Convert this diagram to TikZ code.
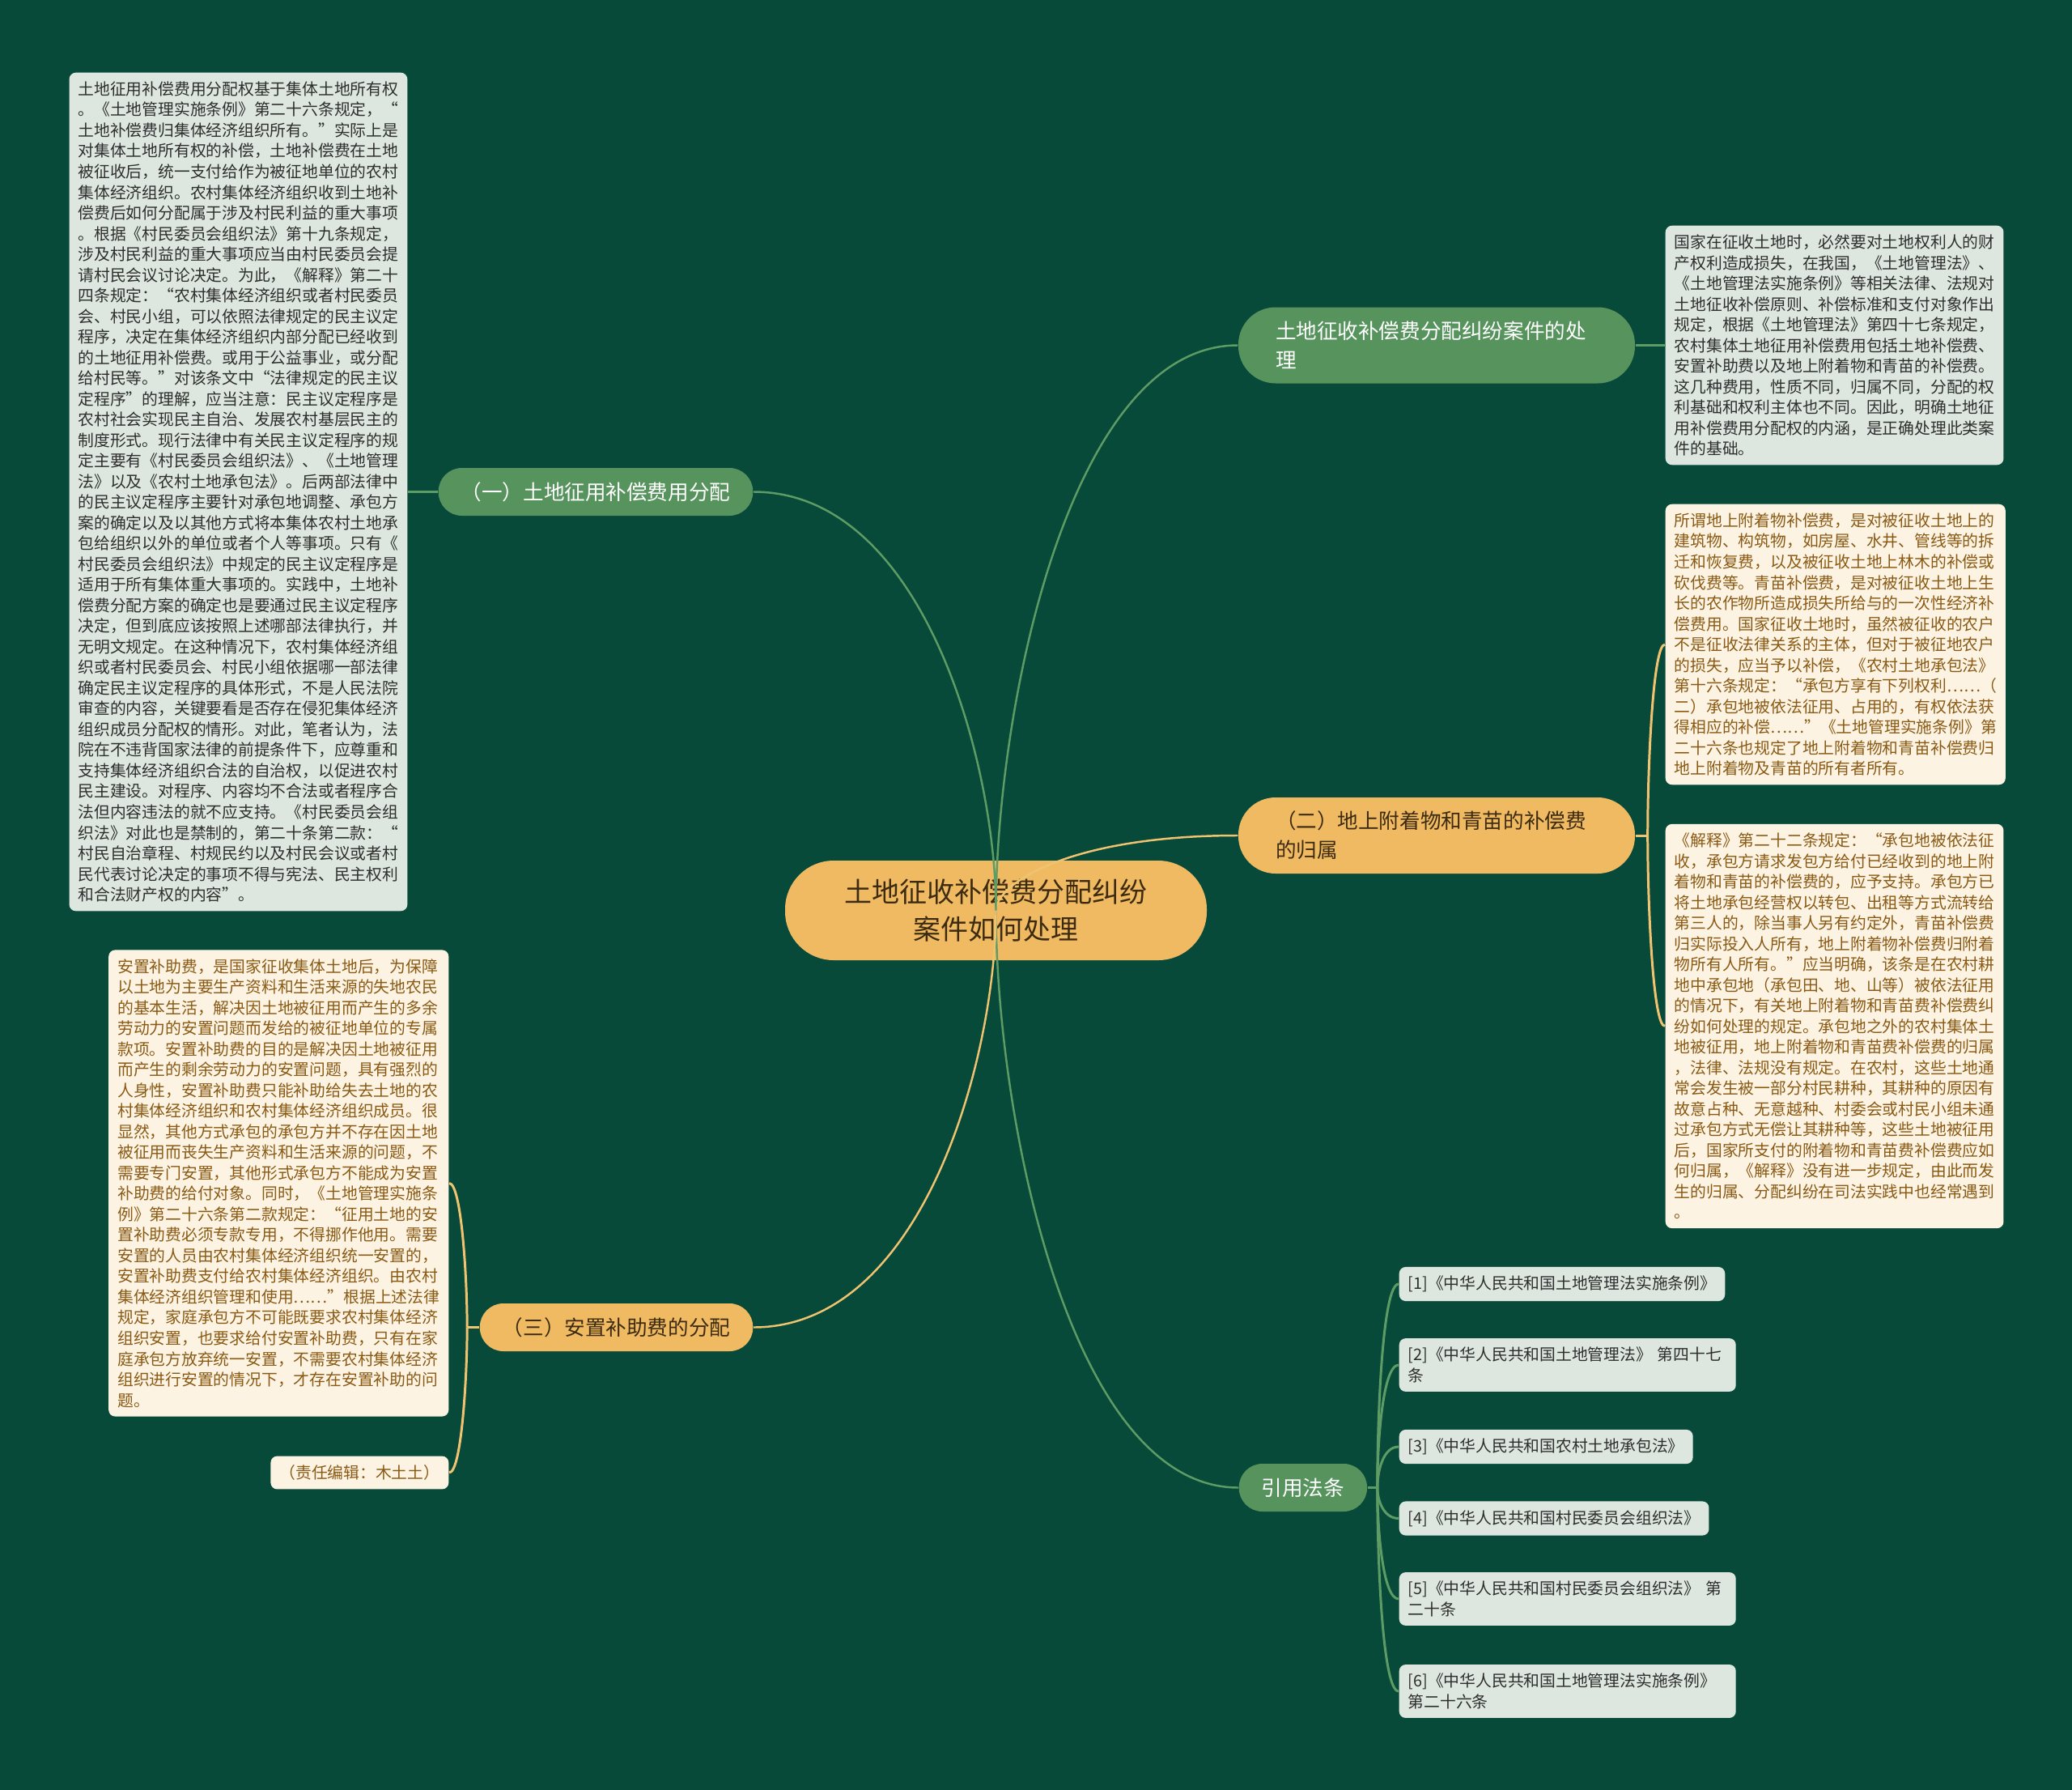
\documentclass[tikz,border=0pt]{standalone}
\usepackage{fontspec}
\setmainfont{Noto Sans CJK SC}
\usepackage{xcolor}
\usepackage{tikz}
\usetikzlibrary{positioning}
\definecolor{bg}{HTML}{084A3A}
\definecolor{gbranch}{HTML}{56935D}
\definecolor{obranch}{HTML}{F0BA62}
\definecolor{gleaf}{HTML}{DDE7DF}
\definecolor{oleaf}{HTML}{FCF3E3}
\definecolor{gline}{HTML}{5E9C65}
\definecolor{oline}{HTML}{EFC36F}
\definecolor{brownink}{HTML}{8A5A14}
\definecolor{ink}{HTML}{2E2E2E}
\definecolor{darkink}{HTML}{3C2B10}

\begin{document}
\begin{tikzpicture}[
root/.style={fill=obranch,rounded corners=6mm,minimum width=52.1mm,minimum height=12.3mm,align=center,text=darkink,font=\fontsize{9.67}{13}\selectfont},
gtopic/.style={fill=gbranch,rounded corners=4.6mm,text=white,font=\fontsize{7.28}{10.2}\selectfont},
otopic/.style={fill=obranch,rounded corners=4.6mm,text=darkink,font=\fontsize{7.28}{10.2}\selectfont},
twoline/.style={text width=39.8mm,inner xsep=4.6mm,minimum height=9.4mm,align=left},
oneline/.style={inner xsep=2.8mm,minimum height=5.9mm,rounded corners=2.9mm},
gnote/.style={fill=gleaf,rounded corners=0.8mm,text=ink,inner sep=1.1mm,align=left,font=\fontsize{5.63}{7.26}\selectfont},
onote/.style={fill=oleaf,rounded corners=0.8mm,text=brownink,inner sep=1.1mm,align=left,font=\fontsize{5.63}{7.26}\selectfont},
wrapped/.style={text width=39.4mm},
glink/.style={draw=gline,line width=0.7pt},
olink/.style={draw=oline,line width=0.7pt},
gbrace/.style={draw=gline,line width=0.85pt},
obrace/.style={draw=oline,line width=0.85pt}
]
\fill[bg] (0,0) rectangle (25.60,-22.11);
\useasboundingbox (0,0) rectangle (25.60,-22.11);

% centre and main topics
\node[root] (root) at (12.305,-11.245) {土地征收补偿费分配纠纷\\案件如何处理};
\node[gtopic,twoline] (b1) at (17.75,-4.265) {土地征收补偿费分配纠纷案件的处\\理};
\node[otopic,twoline] (b2) at (17.75,-10.32) {（二）地上附着物和青苗的补偿费\\的归属};
\node[gtopic,oneline,anchor=west] (b3) at (15.30,-18.375) {引用法条};
\node[gtopic,oneline,anchor=east] (b4) at (9.31,-6.075) {（一）土地征用补偿费用分配};
\node[otopic,oneline,anchor=east] (b5) at (9.31,-16.395) {（三）安置补助费的分配};

% right notes
\node[gnote,anchor=west] (r1) at (20.57,-4.265) {国家在征收土地时，必然要对土地权利人的财\\产权利造成损失，在我国，《土地管理法》、\\《土地管理法实施条例》等相关法律、法规对\\土地征收补偿原则、补偿标准和支付对象作出\\规定，根据《土地管理法》第四十七条规定，\\农村集体土地征用补偿费用包括土地补偿费、\\安置补助费以及地上附着物和青苗的补偿费。\\这几种费用，性质不同，归属不同，分配的权\\利基础和权利主体也不同。因此，明确土地征\\用补偿费用分配权的内涵，是正确处理此类案\\件的基础。};
\node[onote,anchor=west] (r2) at (20.57,-7.96) {所谓地上附着物补偿费，是对被征收土地上的\\建筑物、构筑物，如房屋、水井、管线等的拆\\迁和恢复费，以及被征收土地上林木的补偿或\\砍伐费等。青苗补偿费，是对被征收土地上生\\长的农作物所造成损失所给与的一次性经济补\\偿费用。国家征收土地时，虽然被征收的农户\\不是征收法律关系的主体，但对于被征地农户\\的损失，应当予以补偿，《农村土地承包法》\\第十六条规定：“承包方享有下列权利……（\\二）承包地被依法征用、占用的，有权依法获\\得相应的补偿……”《土地管理实施条例》第\\二十六条也规定了地上附着物和青苗补偿费归\\地上附着物及青苗的所有者所有。};
\node[onote,anchor=west] (r3) at (20.57,-12.675) {《解释》第二十二条规定：“承包地被依法征\\收，承包方请求发包方给付已经收到的地上附\\着物和青苗的补偿费的，应予支持。承包方已\\将土地承包经营权以转包、出租等方式流转给\\第三人的，除当事人另有约定外，青苗补偿费\\归实际投入人所有，地上附着物补偿费归附着\\物所有人所有。”应当明确，该条是在农村耕\\地中承包地（承包田、地、山等）被依法征用\\的情况下，有关地上附着物和青苗费补偿费纠\\纷如何处理的规定。承包地之外的农村集体土\\地被征用，地上附着物和青苗费补偿费的归属\\，法律、法规没有规定。在农村，这些土地通\\常会发生被一部分村民耕种，其耕种的原因有\\故意占种、无意越种、村委会或村民小组未通\\过承包方式无偿让其耕种等，这些土地被征用\\后，国家所支付的附着物和青苗费补偿费应如\\何归属，《解释》没有进一步规定，由此而发\\生的归属、分配纠纷在司法实践中也经常遇到\\。};

% left notes
\node[gnote,anchor=east] (l1) at (5.04,-6.075) {土地征用补偿费用分配权基于集体土地所有权\\。《土地管理实施条例》第二十六条规定，“\\土地补偿费归集体经济组织所有。”实际上是\\对集体土地所有权的补偿，土地补偿费在土地\\被征收后，统一支付给作为被征地单位的农村\\集体经济组织。农村集体经济组织收到土地补\\偿费后如何分配属于涉及村民利益的重大事项\\。根据《村民委员会组织法》第十九条规定，\\涉及村民利益的重大事项应当由村民委员会提\\请村民会议讨论决定。为此，《解释》第二十\\四条规定：“农村集体经济组织或者村民委员\\会、村民小组，可以依照法律规定的民主议定\\程序，决定在集体经济组织内部分配已经收到\\的土地征用补偿费。或用于公益事业，或分配\\给村民等。”对该条文中“法律规定的民主议\\定程序”的理解，应当注意：民主议定程序是\\农村社会实现民主自治、发展农村基层民主的\\制度形式。现行法律中有关民主议定程序的规\\定主要有《村民委员会组织法》、《土地管理\\法》以及《农村土地承包法》。后两部法律中\\的民主议定程序主要针对承包地调整、承包方\\案的确定以及以其他方式将本集体农村土地承\\包给组织以外的单位或者个人等事项。只有《\\村民委员会组织法》中规定的民主议定程序是\\适用于所有集体重大事项的。实践中，土地补\\偿费分配方案的确定也是要通过民主议定程序\\决定，但到底应该按照上述哪部法律执行，并\\无明文规定。在这种情况下，农村集体经济组\\织或者村民委员会、村民小组依据哪一部法律\\确定民主议定程序的具体形式，不是人民法院\\审查的内容，关键要看是否存在侵犯集体经济\\组织成员分配权的情形。对此，笔者认为，法\\院在不违背国家法律的前提条件下，应尊重和\\支持集体经济组织合法的自治权，以促进农村\\民主建设。对程序、内容均不合法或者程序合\\法但内容违法的就不应支持。《村民委员会组\\织法》对此也是禁制的，第二十条第二款：“\\村民自治章程、村规民约以及村民会议或者村\\民代表讨论决定的事项不得与宪法、民主权利\\和合法财产权的内容”。};
\node[onote,anchor=east] (l2) at (5.55,-14.615) {安置补助费，是国家征收集体土地后，为保障\\以土地为主要生产资料和生活来源的失地农民\\的基本生活，解决因土地被征用而产生的多余\\劳动力的安置问题而发给的被征地单位的专属\\款项。安置补助费的目的是解决因土地被征用\\而产生的剩余劳动力的安置问题，具有强烈的\\人身性，安置补助费只能补助给失去土地的农\\村集体经济组织和农村集体经济组织成员。很\\显然，其他方式承包的承包方并不存在因土地\\被征用而丧失生产资料和生活来源的问题，不\\需要专门安置，其他形式承包方不能成为安置\\补助费的给付对象。同时，《土地管理实施条\\例》第二十六条第二款规定：“征用土地的安\\置补助费必须专款专用，不得挪作他用。需要\\安置的人员由农村集体经济组织统一安置的，\\安置补助费支付给农村集体经济组织。由农村\\集体经济组织管理和使用……”根据上述法律\\规定，家庭承包方不可能既要求农村集体经济\\组织安置，也要求给付安置补助费，只有在家\\庭承包方放弃统一安置，不需要农村集体经济\\组织进行安置的情况下，才存在安置补助的问\\题。};
\node[onote,anchor=east] (l3) at (5.55,-18.19) {（责任编辑：木土土）};

% cited laws
\node[gnote,anchor=west] (f1) at (17.28,-15.86) {[1]《中华人民共和国土地管理法实施条例》};
\node[gnote,wrapped,anchor=west] (f2) at (17.28,-16.86) {[2]《中华人民共和国土地管理法》 第四十七\\条};
\node[gnote,anchor=west] (f3) at (17.28,-17.87) {[3]《中华人民共和国农村土地承包法》};
\node[gnote,anchor=west] (f4) at (17.28,-18.755) {[4]《中华人民共和国村民委员会组织法》};
\node[gnote,wrapped,anchor=west] (f5) at (17.28,-19.75) {[5]《中华人民共和国村民委员会组织法》 第\\二十条};
\node[gnote,wrapped,anchor=west] (f6) at (17.28,-20.89) {[6]《中华人民共和国土地管理法实施条例》\\第二十六条};

% links from the centre
\draw[glink] (root.center) to[out=90,in=180,out distance=24.4mm,in distance=21mm] (b1.west);
\draw[olink] (root.center) to[out=90,in=180,out distance=3.2mm,in distance=21mm] (b2.west);
\draw[glink] (root.center) to[out=-90,in=180,out distance=25mm,in distance=21mm] (b3.west);
\draw[glink] (root.center) to[out=90,in=0,out distance=18.1mm,in distance=21mm] (b4.east);
\draw[olink] (root.center) to[out=-90,in=0,out distance=18mm,in distance=21mm] (b5.east);

% links to the notes
\draw[gbrace] (b1.east) -- (r1.west);
\draw[gbrace] (b4.west) -- (l1.east);
\coordinate[right=1.5mm of b2.east] (j2);
\draw[obrace] (b2.east) -- (j2);
\draw[obrace] (j2) to[out=90,in=180,out distance=8.3mm,in distance=1.5mm] (r2.west);
\draw[obrace] (j2) to[out=-90,in=180,out distance=8.2mm,in distance=1.5mm] (r3.west);
\coordinate[left=1.5mm of b5.west] (j5);
\draw[obrace] (b5.west) -- (j5);
\draw[obrace] (j5) to[out=90,in=0,out distance=6.2mm,in distance=1.5mm] (l2.east);
\draw[obrace] (j5) to[out=-90,in=0,out distance=6.3mm,in distance=1.5mm] (l3.east);
\coordinate[right=1.2mm of b3.east] (j3);
\draw[gbrace] (b3.east) -- (j3);
\draw[gbrace] (j3) to[out=90,in=180,out distance=8.8mm,in distance=2mm] (f1.west);
\draw[gbrace] (j3) to[out=90,in=180,out distance=5.3mm,in distance=2mm] (f2.west);
\draw[gbrace] (j3) to[out=90,in=180,out distance=1.8mm,in distance=2mm] (f3.west);
\draw[gbrace] (j3) to[out=-90,in=180,out distance=1.3mm,in distance=2mm] (f4.west);
\draw[gbrace] (j3) to[out=-90,in=180,out distance=4.8mm,in distance=2mm] (f5.west);
\draw[gbrace] (j3) to[out=-90,in=180,out distance=8.8mm,in distance=2mm] (f6.west);
\end{tikzpicture}
\end{document}
